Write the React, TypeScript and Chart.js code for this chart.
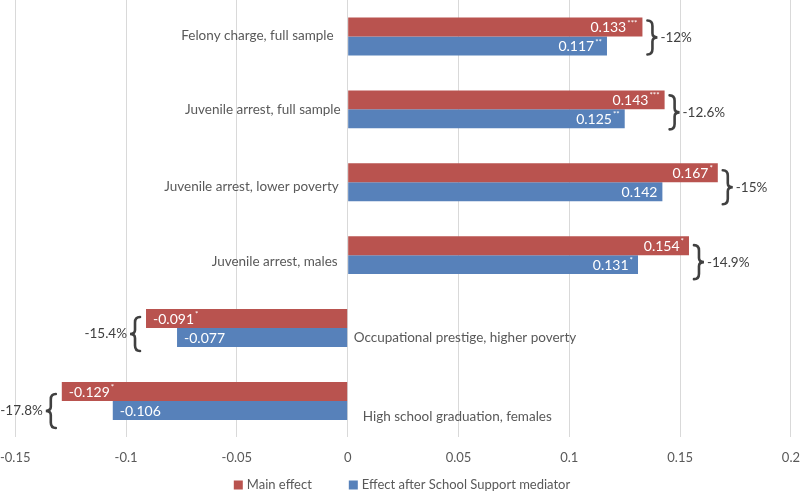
import React, { useEffect, useRef } from "react";
import { Chart, registerables } from "chart.js";

Chart.register(...registerables);

const categories = [
  "Felony charge, full sample",
  "Juvenile arrest, full sample",
  "Juvenile arrest, lower poverty",
  "Juvenile arrest, males",
  "Occupational prestige, higher poverty",
  "High school graduation, females",
];
const mainEffect = [0.133, 0.143, 0.167, 0.154, -0.091, -0.129];
const mediatedEffect = [0.117, 0.125, 0.142, 0.131, -0.077, -0.106];
const mainStars = ["***", "***", "*", "*", "*", "*"];
const mediatedStars = ["**", "**", "", "*", "", ""];
const reductions = ["-12%", "-12.6%", "-15%", "-14.9%", "-15.4%", "-17.8%"];
const xTicks = [-0.15, -0.1, -0.05, 0, 0.05, 0.1, 0.15, 0.2];
const seriesNames = ["Main effect", "Effect after School Support mediator"];

// styling / placement offsets (px) for annotations
const labelShiftY = [-1, 0, 4, 6, 10, 16];
const labelShiftX = [-5, 2, 0, -1, 0, 9];
const braceShift = [1, 3, 5, 7, 6, 10];

const RED = "#B9534F";
const BLUE = "#5781BA";
const FONT = "Lato";
const TEXT = "#595959";

const fmt = (v: number) => {
  const r = Math.round(v * 100) / 100;
  return String(r);
};

function drawBrace(ctx: CanvasRenderingContext2D, x0: number, yT: number, yB: number, w: number) {
  const h = yB - yT;
  const yM = (yT + yB) / 2;
  const xm = x0 + w / 2;
  ctx.beginPath();
  ctx.moveTo(x0, yT);
  ctx.quadraticCurveTo(xm, yT, xm, yT + h * 0.16);
  ctx.lineTo(xm, yM - h * 0.12);
  ctx.quadraticCurveTo(xm, yM, x0 + w, yM);
  ctx.quadraticCurveTo(xm, yM, xm, yM + h * 0.12);
  ctx.lineTo(xm, yB - h * 0.16);
  ctx.quadraticCurveTo(xm, yB, x0, yB);
  ctx.stroke();
}

const annotate = {
  id: "annotate",
  afterDatasetsDraw(chart: any) {
    const ctx: CanvasRenderingContext2D = chart.ctx;
    const xs = chart.scales.x;
    const ys = chart.scales.y;
    const zero = xs.getPixelForValue(0);
    ctx.save();
    // value labels inside bars
    const series = [
      { vals: mainEffect, stars: mainStars },
      { vals: mediatedEffect, stars: mediatedStars },
    ];
    series.forEach((s, di) => {
      const meta = chart.getDatasetMeta(di);
      meta.data.forEach((bar: any, i: number) => {
        const v = s.vals[i];
        const txt = v.toFixed(3);
        const st = s.stars[i];
        ctx.font = `14px ${FONT}`;
        const tw = ctx.measureText(txt).width;
        ctx.font = `8px ${FONT}`;
        const sw = st ? ctx.measureText(st).width + 1 : 0;
        const end = bar.x;
        const cy = bar.y;
        let left: number;
        if (v >= 0) left = end - 5 - tw - sw;
        else left = end + 7;
        ctx.fillStyle = "#ffffff";
        ctx.textBaseline = "middle";
        ctx.textAlign = "left";
        ctx.font = `14px ${FONT}`;
        ctx.fillText(txt, left, cy + 1);
        if (st) {
          ctx.font = `8px ${FONT}`;
          ctx.fillText(st, left + tw + 1, cy - 4);
        }
      });
    });
    // category labels next to the zero line
    ctx.fillStyle = TEXT;
    ctx.font = `13.5px ${FONT}`;
    ctx.textBaseline = "middle";
    categories.forEach((c, i) => {
      const y = ys.getPixelForValue(i) + labelShiftY[i];
      if (mainEffect[i] >= 0) {
        ctx.textAlign = "right";
        ctx.fillText(c, zero - 9 + labelShiftX[i], y);
      } else {
        ctx.textAlign = "left";
        ctx.fillText(c, zero + 6 + labelShiftX[i], y);
      }
    });
    // braces and reduction labels
    ctx.strokeStyle = "#404040";
    ctx.lineWidth = 2.6;
    ctx.lineCap = "round";
    categories.forEach((_, i) => {
      const cy = ys.getPixelForValue(i) + braceShift[i];
      const yT = cy - 17;
      const yB = cy + 17;
      const v = mainEffect[i];
      ctx.fillStyle = "#404040";
      ctx.font = `13.5px ${FONT}`;
      if (v >= 0) {
        const x0 = xs.getPixelForValue(Math.max(v, mediatedEffect[i])) + 5;
        drawBrace(ctx, x0, yT, yB, 10);
        ctx.textAlign = "left";
        ctx.fillText(reductions[i], x0 + 13, cy);
      } else {
        const x0 = xs.getPixelForValue(Math.min(v, mediatedEffect[i])) - 6;
        drawBrace(ctx, x0, yT, yB, -10);
        ctx.textAlign = "right";
        ctx.fillText(reductions[i], x0 - 13, cy);
      }
    });
    ctx.restore();
  },
  afterDraw(chart: any) {
    const ctx: CanvasRenderingContext2D = chart.ctx;
    ctx.save();
    ctx.font = `13px ${FONT}`;
    const colors = [RED, BLUE];
    const box = 9;
    const gapBox = 4;
    const gapItem = 37;
    const widths = seriesNames.map((n) => box + gapBox + ctx.measureText(n).width);
    const total = widths.reduce((a, b) => a + b, 0) + gapItem;
    let x = chart.width / 2 - total / 2 + 2;
    const y = chart.height - 7;
    seriesNames.forEach((n, i) => {
      ctx.fillStyle = colors[i];
      ctx.fillRect(x, y - box / 2, box, box);
      ctx.fillStyle = TEXT;
      ctx.textAlign = "left";
      ctx.textBaseline = "middle";
      ctx.fillText(n, x + box + gapBox, y);
      x += widths[i] + gapItem;
    });
    ctx.restore();
  },
};

export default function App() {
  const ref = useRef<HTMLCanvasElement | null>(null);
  useEffect(() => {
    if (!ref.current) return;
    const chart = new Chart(ref.current, {
      type: "bar",
      data: {
        labels: categories,
        datasets: [
          {
            label: seriesNames[0],
            data: mainEffect,
            backgroundColor: RED,
            borderWidth: 0,
            barPercentage: 1,
            categoryPercentage: 0.52,
          },
          {
            label: seriesNames[1],
            data: mediatedEffect,
            backgroundColor: BLUE,
            borderWidth: 0,
            barPercentage: 1,
            categoryPercentage: 0.52,
          },
        ],
      },
      options: {
        indexAxis: "y",
        responsive: false,
        animation: false,
        layout: { padding: { left: 0, right: 0, top: 0, bottom: 26 } },
        plugins: {
          legend: { display: false },
          tooltip: { enabled: false },
        },
        scales: {
          x: {
            type: "linear",
            min: -0.15,
            max: 0.2,
            afterBuildTicks: (axis: any) => {
              axis.ticks = xTicks.map((v) => ({ value: v }));
            },
            grid: {
              color: "#d9d9d9",
              lineWidth: 1,
              drawTicks: true,
              tickLength: 13,
              tickColor: "rgba(0,0,0,0)",
            },
            border: { display: false },
            ticks: {
              padding: 0,
              color: TEXT,
              font: { family: FONT, size: 13 },
              callback: (v: any) => fmt(Number(v)),
              maxRotation: 0,
            },
          },
          y: {
            display: false,
          },
        },
      },
      plugins: [annotate],
    });
    return () => chart.destroy();
  }, []);
  return (
    <div style={{ position: "absolute", left: 0, top: 0, width: 800, height: 492, background: "#fff" }}>
      <canvas ref={ref} width={800} height={492} />
    </div>
  );
}
